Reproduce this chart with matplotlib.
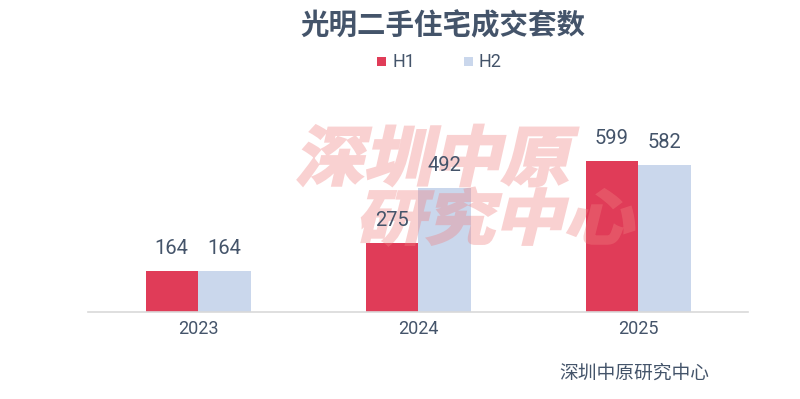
import matplotlib
matplotlib.use("Agg")
import matplotlib.pyplot as plt
from matplotlib.textpath import TextPath
from matplotlib.patches import PathPatch, Rectangle
from matplotlib.font_manager import FontProperties
from matplotlib.transforms import Affine2D
import numpy as np

years = ["2023", "2024", "2025"]
h1 = [164, 275, 599]
h2 = [164, 492, 582]
series_names = ["H1", "H2"]
title = "光明二手住宅成交套数"
source = "深圳中原研究中心"
watermark_lines = ["深圳中原", "研究中心"]

C_H1 = "#E03C58"
C_H2 = "#CAD7EC"
C_TXT = "#44546A"

W, H = 800, 399


def fx(px):
    return px / W


def fy(py):
    return 1 - py / H


# ---- watermark mask rendered offscreen ----
wm_font = FontProperties(family="Noto Sans CJK SC", weight="bold")
boxes = [(298, 125, 578, 186), (362, 188, 634, 245)]
fig2 = plt.figure(figsize=(W / 100, H / 100), dpi=100)
fig2.patch.set_facecolor("white")
for line, (x0, y0, x1, y1) in zip(watermark_lines, boxes):
    tp = TextPath((0, 0), line, size=1, prop=wm_font)
    tp = Affine2D().skew_deg(12, 0).transform_path(tp)
    ext = tp.get_extents()
    sx = (x1 - x0) / ext.width
    sy = (y1 - y0) / ext.height
    tr = (Affine2D().translate(-ext.x0, -ext.y0).scale(sx, sy)
          .translate(x0, H - y1).scale(1 / 100) + fig2.dpi_scale_trans)
    fig2.add_artist(PathPatch(tp, transform=tr, facecolor="black",
                              edgecolor="black", linewidth=2.0, joinstyle="miter"))
fig2.canvas.draw()
buf = np.asarray(fig2.canvas.buffer_rgba()).astype(float)
plt.close(fig2)
mask = 1 - buf[..., 0] / 255.0
wm_rgb = np.array([240, 128, 128]) / 255.0
wm_img = np.zeros((buf.shape[0], buf.shape[1], 4))
wm_img[..., :3] = wm_rgb
wm_img[..., 3] = mask * 0.36

# ---- main figure ----
fig = plt.figure(figsize=(W / 100, H / 100), dpi=100)
fig.patch.set_facecolor("white")

ax_top, ax_bot = 100, 312
ax = fig.add_axes([fx(88), fy(ax_bot), (748 - 88) / W, (ax_bot - ax_top) / H])
x = np.arange(len(years))
bw = 52.5 / 220
b1 = ax.bar(x - bw / 2, h1, width=bw, color=C_H1, zorder=2)
b2 = ax.bar(x + bw / 2, h2, width=bw, color=C_H2, zorder=2)

im = ax.imshow(wm_img, extent=[0, 1, 0, 1], transform=fig.transFigure,
               aspect="auto", interpolation="nearest", zorder=3)
im.set_clip_on(False)

ax.set_xlim(-0.5, 2.5)
ax.set_ylim(0, (ax_bot - ax_top) / 0.2523)

for s in ["top", "right", "left"]:
    ax.spines[s].set_visible(False)
ax.spines["bottom"].set_color("#D9D9D9")
ax.spines["bottom"].set_linewidth(1.2)
ax.set_yticks([])
ax.set_xticks(x)
ax.set_xticklabels(years, fontsize=13, color=C_TXT, family=["Roboto", "DejaVu Sans"])
ax.tick_params(axis="x", length=0, pad=6)

for bars, vals in ((b1, h1), (b2, h2)):
    for r, v in zip(bars, vals):
        ax.annotate(str(v), (r.get_x() + r.get_width() / 2, v), xytext=(0, 12),
                    textcoords="offset points", ha="center", va="baseline",
                    fontsize=14.5, color=C_TXT, family=["Roboto", "DejaVu Sans"], zorder=4)

# title
fig.text(fx(443), fy(26), title, ha="center", va="center", fontsize=20.5,
         fontweight="bold", color=C_TXT, family=["Noto Sans CJK SC", "DejaVu Sans"])

# legend
for (sx0, tx0, col, name) in ((377, 392, C_H1, series_names[0]), (464, 478, C_H2, series_names[1])):
    fig.add_artist(Rectangle((fx(sx0), fy(66)), 9 / W, 9 / H, transform=fig.transFigure,
                             facecolor=col, edgecolor="none"))
    fig.text(fx(tx0), fy(62), name, ha="left", va="center", fontsize=13,
             color=C_TXT, family=["Roboto", "DejaVu Sans"])

fig.text(fx(559), fy(373), source, ha="left", va="center", fontsize=13.5,
         color=C_TXT, family=["Noto Sans CJK SC", "DejaVu Sans"])

fig.savefig("out.png", dpi=100, facecolor="white")
